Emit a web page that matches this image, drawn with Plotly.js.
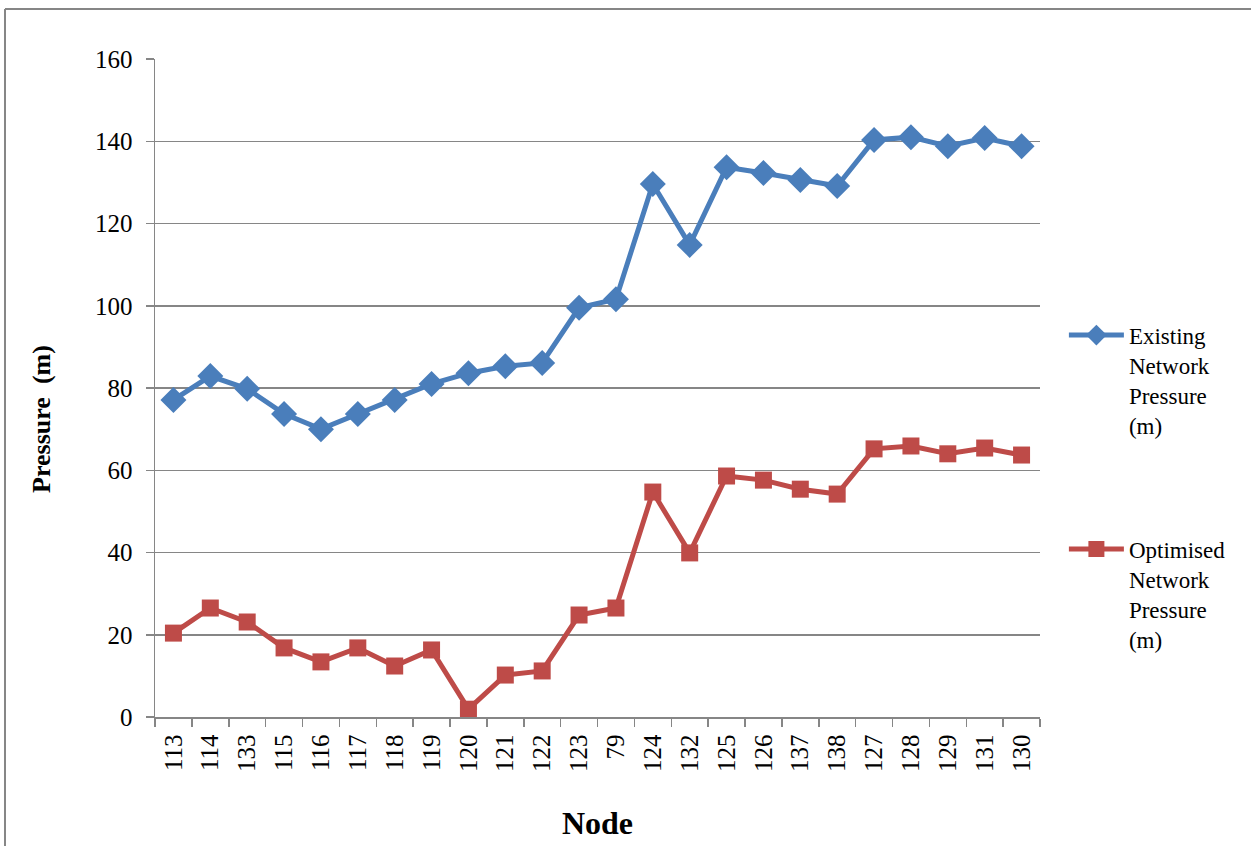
<!DOCTYPE html>
<html>
<head>
<meta charset="utf-8">
<script src="https://cdn.plot.ly/plotly-3.0.1.min.js"></script>
<style>html,body{margin:0;padding:0;background:#fff}#chart{width:1251px;height:846px}</style>
</head>
<body>
<div id="chart"></div>
<script>
const nodes = ["113","114","133","115","116","117","118","119","120","121","122","123","79","124","132","125","126","137","138","127","128","129","131","130"];
const existingPressure = [77.1,82.9,79.8,73.7,70.0,73.7,77.1,81.0,83.6,85.3,86.1,99.5,101.6,129.6,114.8,133.7,132.3,130.6,129.1,140.3,141.0,138.8,140.8,138.8];
const optimisedPressure = [20.4,26.5,23.1,16.8,13.4,16.8,12.4,16.3,1.9,10.2,11.2,24.8,26.5,54.7,39.9,58.6,57.6,55.4,54.2,65.2,65.9,64.0,65.4,63.7];
const yTicks = [0,20,40,60,80,100,120,140,160];

const font = {family: "Liberation Serif, Times New Roman, serif", color: "#000"};

const traces = [
  {
    x: nodes, y: existingPressure, type: "scatter", mode: "lines+markers",
    name: "Existing<br>Network<br>Pressure<br>(m)",
    line: {color: "#4a7ebb", width: 5},
    marker: {symbol: "diamond", size: 20, color: "#4a7ebb"},
    legend: "legend"
  },
  {
    x: nodes, y: optimisedPressure, type: "scatter", mode: "lines+markers",
    name: "Optimised<br>Network<br>Pressure<br>(m)",
    line: {color: "#be4b48", width: 5},
    marker: {symbol: "square", size: 17, color: "#be4b48"},
    legend: "legend2"
  }
];

const legendCommon = {
  xref: "paper", yref: "paper", xanchor: "left", yanchor: "top",
  font: Object.assign({}, font, {size: 23}),
  valign: "top",
  itemwidth: 55,
  bgcolor: "rgba(0,0,0,0)", borderwidth: 0
};

const layout = {
  width: 1251, height: 846,
  margin: {l: 155, r: 211, t: 59, b: 129},
  paper_bgcolor: "#fff", plot_bgcolor: "#fff",
  font: font,
  showlegend: true,
  legend: Object.assign({x: 1.027, y: 0.613}, legendCommon),
  legend2: Object.assign({x: 1.027, y: 0.288}, legendCommon),
  xaxis: {
    type: "category",
    tickson: "boundaries",
    ticks: "outside", ticklen: 8, tickcolor: "#868686", tickwidth: 1.5,
    tickangle: -90,
    ticklabelstandoff: 6,
    tickfont: Object.assign({}, font, {size: 25}),
    showline: true, linecolor: "#868686", linewidth: 1.5,
    showgrid: false,
    title: {text: "<b>Node</b>", font: Object.assign({}, font, {size: 32}), standoff: 40},
    range: [-0.5, nodes.length - 0.5]
  },
  yaxis: {
    range: [0, 160],
    tickvals: yTicks,
    ticks: "outside", ticklen: 8, tickcolor: "#868686", tickwidth: 1.5,
    ticklabelstandoff: 8,
    tickfont: Object.assign({}, font, {size: 25}),
    showline: true, linecolor: "#868686", linewidth: 1.5,
    showgrid: true, gridcolor: "#868686", gridwidth: 1.5,
    zeroline: false
  },
  annotations: [
    {text: "<b>Pressure  (m)</b>", xref: "paper", yref: "paper", x: -0.1277, y: 0.453,
     xanchor: "center", yanchor: "middle", textangle: -90, showarrow: false,
     font: Object.assign({}, font, {size: 26})}
  ],
  shapes: [
    {type: "line", xref: "paper", yref: "paper", x0: -0.1695, x1: -0.1695, y0: 1.076, y1: -0.3, line: {color: "#868686", width: 2}},
    {type: "line", xref: "paper", yref: "paper", x0: -0.1695, x1: 1.3, y0: 1.076, y1: 1.076, line: {color: "#868686", width: 2}}
  ]
};

Plotly.newPlot("chart", traces, layout, {displayModeBar: false, staticPlot: true});
</script>
</body>
</html>
